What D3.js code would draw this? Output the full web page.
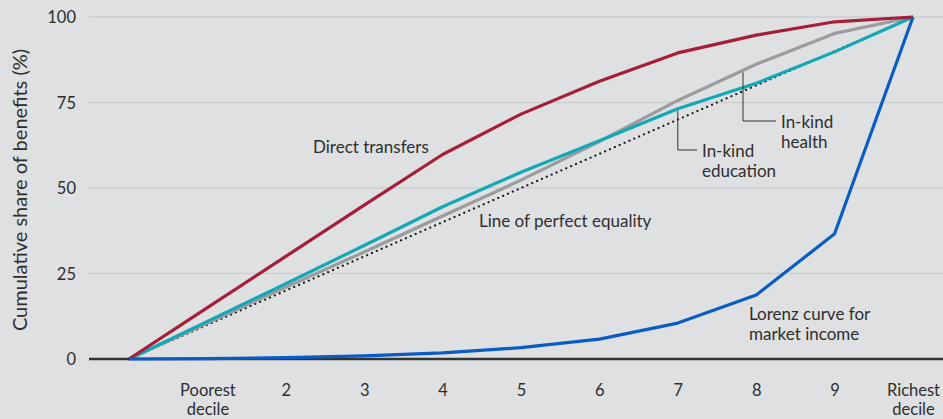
<!DOCTYPE html>
<html><head><meta charset="utf-8">
<script src="https://cdn.jsdelivr.net/npm/d3@7"></script>
<style>
html,body{margin:0;padding:0;background:#dfe0e2;}
svg{display:block;font-family:Lato,"Open Sans",sans-serif;}
</style></head>
<body><svg id="c" width="943" height="419"></svg>
<script>
const deciles = [0,1,2,3,4,5,6,7,8,9,10];
const xTickLabels = ["Poorest|decile","2","3","4","5","6","7","8","9","Richest|decile"];
const yTicks = [0,25,50,75,100];
const directTransfers = [0,15,30,45,59.8,71.6,81.2,89.5,94.7,98.6,100];
const inkindEducation = [0,11,22,33.2,44.5,54.6,63.8,73.2,80.6,89.8,100];
const inkindHealth   = [0,10.5,21,31.3,41.8,52.3,63.6,75.6,86.2,95.2,100];
const equality       = [0,10,20,30,40,50,60,70,80,90,100];
const lorenz         = [0,0.1,0.4,0.9,1.8,3.3,5.8,10.5,18.7,36.6,100];

const svg = d3.select("#c");
const x = d3.scaleLinear().domain([0,10]).range([129,913]);
const y = d3.scaleLinear().domain([0,100]).range([359,17]);
const textCol = "#2e2e2e";

// gridlines
svg.append("g").selectAll("line").data(yTicks.filter(d=>d>0)).join("line")
  .attr("x1",89).attr("x2",943).attr("y1",d=>y(d)).attr("y2",d=>y(d))
  .attr("stroke","#cdced1").attr("stroke-width",1.5);

// y axis labels
const yAxis = d3.axisLeft(y).tickValues(yTicks).tickSize(0).tickPadding(0);
const ya = svg.append("g").attr("transform","translate(76,0)").call(yAxis);
ya.select(".domain").remove();
ya.selectAll("text").attr("font-size",16.5).attr("fill",textCol).attr("font-family","Lato,sans-serif").attr("dy","0.35em");

// x axis labels
const xAxis = d3.axisBottom(x).tickValues(deciles.slice(1)).tickSize(0).tickFormat(()=>"");
const xa = svg.append("g").attr("transform","translate(0,359)").call(xAxis);
xa.select(".domain").remove();
xa.selectAll(".tick").each(function(d,i){
  const parts = xTickLabels[i].split("|");
  const t = d3.select(this).append("text").attr("fill",textCol).attr("font-size",16.5)
    .attr("text-anchor","middle").attr("font-family","Lato,sans-serif");
  parts.forEach((p,j)=>t.append("tspan").attr("x",0).attr("y",37+j*19).text(p));
});

// baseline
svg.append("line").attr("x1",89).attr("x2",943).attr("y1",y(0)).attr("y2",y(0))
  .attr("stroke","#333").attr("stroke-width",2.5);

// axis title
svg.append("text").attr("transform","translate(27,190) rotate(-90)")
  .attr("text-anchor","middle").attr("font-size",20).attr("fill",textCol)
  .text("Cumulative share of benefits (%)");

const line = d3.line().x((d,i)=>x(deciles[i])).y(d=>y(d));

svg.append("path").datum(equality).attr("d",line).attr("fill","none")
  .attr("stroke","#1a1a1a").attr("stroke-width",2.2).attr("stroke-linecap","round")
  .attr("stroke-dasharray","0.1,5.2");
const series = [
  [inkindHealth,"#9c9c9e"],
  [inkindEducation,"#13a8b6"],
  [directTransfers,"#a61e38"],
  [lorenz,"#0a5cc2"]
];
series.forEach(([data,col])=>{
  svg.append("path").datum(data).attr("d",line).attr("fill","none")
    .attr("stroke",col).attr("stroke-width",3.2).attr("stroke-linejoin","round");
});

// annotation leaders
svg.append("path").attr("d",`M${x(7)},${y(inkindEducation[7])+2}V150H697`)
  .attr("fill","none").attr("stroke","#333").attr("stroke-width",1);
svg.append("path").attr("d",`M743,${y(inkindHealth[7]+ (inkindHealth[8]-inkindHealth[7])*((743-x(7))/(x(8)-x(7))))+2}V121H776`)
  .attr("fill","none").attr("stroke","#333").attr("stroke-width",1);

function label(lines,x0,y0){
  const t = svg.append("text").attr("font-size",17).attr("fill",textCol);
  lines.forEach((l,j)=>t.append("tspan").attr("x",x0).attr("y",y0+j*19.5).text(l));
}
label(["Direct transfers"],313,153);
label(["Line of perfect equality"],479,227);
label(["In-kind","education"],702,157);
label(["In-kind","health"],781,128);
label(["Lorenz curve for","market income"],749,320);
</script></body></html>
